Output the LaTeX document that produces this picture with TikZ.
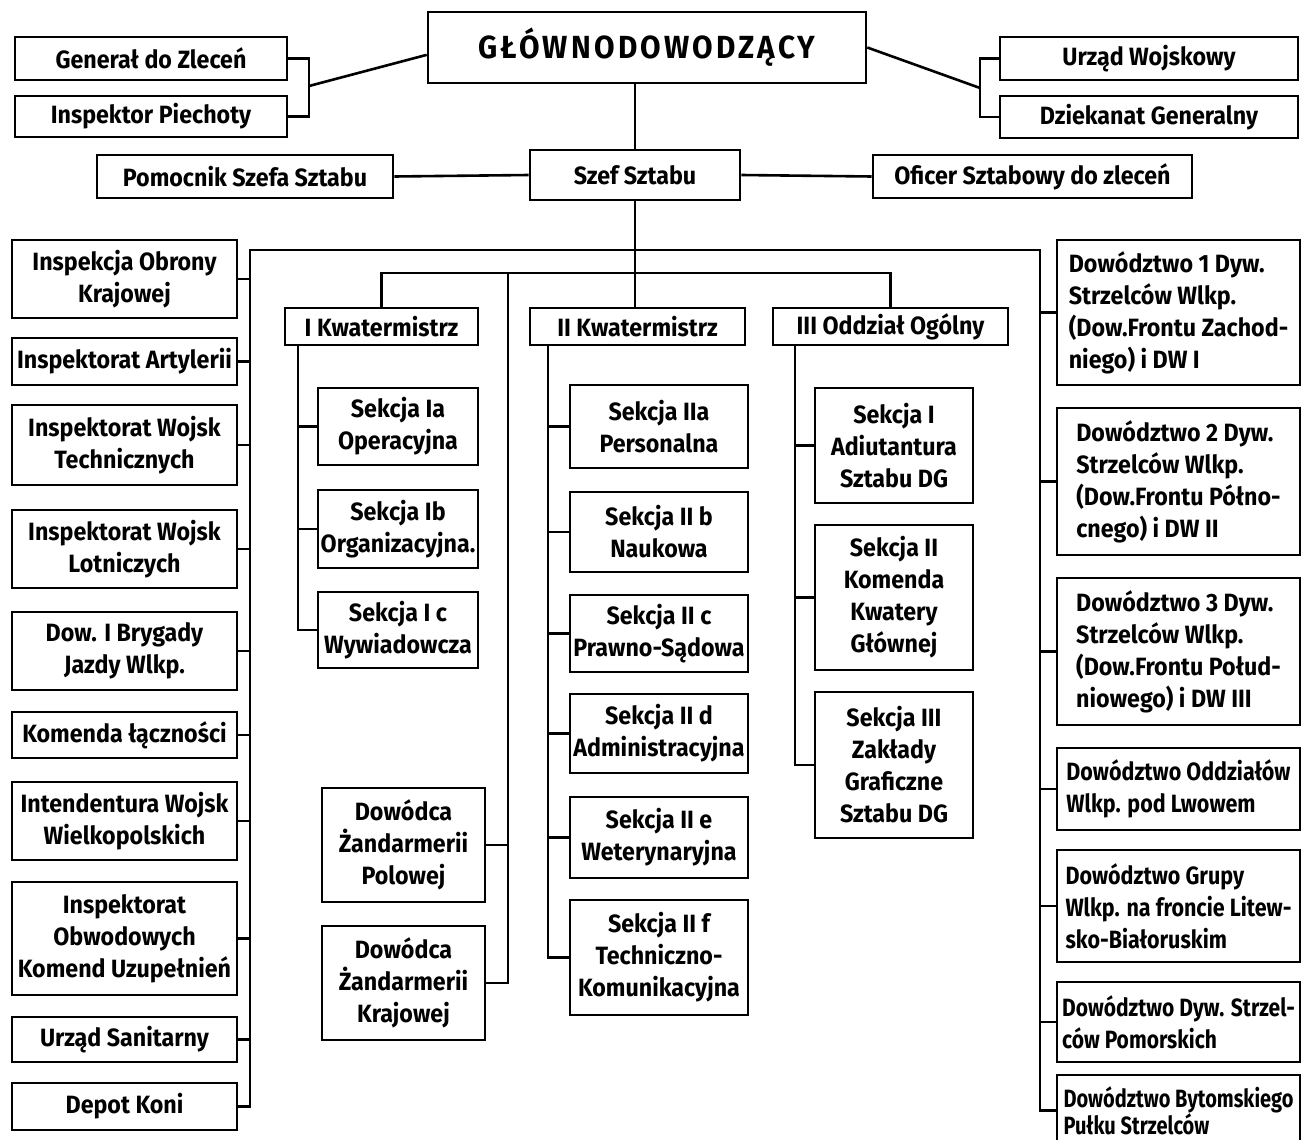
\documentclass[tikz,border=0pt]{standalone}
\usepackage{fontspec}
\usetikzlibrary{calc}
\setmainfont{Fira Sans}[FakeStretch=0.93]
\newcommand{\fs}{\fontsize{25}{32}\selectfont\bfseries}
\newcommand{\bigfs}{\fontsize{32}{36}\selectfont\addfontfeatures{LetterSpace=10}}
\newcommand{\narrowA}{\addfontfeatures{FakeStretch=0.86}}
\newcommand{\narrowC}{\addfontfeatures{FakeStretch=0.84}}
\newcommand{\narrowB}{\fontsize{25}{27}\selectfont\bfseries\addfontfeatures{FakeStretch=0.80}}
\tikzset{
  box/.style={draw, line width=2.6pt, inner sep=1pt, align=center, font=\fs},
  lbox/.style={box, align=left},
  conn/.style={line width=2.6pt, line join=miter}
}
\newcommand{\bx}[7][box]{\node[#1, minimum width={#5-#3}, minimum height={#6-#4}] (#2) at ({(#3+#5)/2},{(#4+#6)/2}) {#7};}
\begin{document}
\begin{tikzpicture}[x=1pt,y=-1pt]
\useasboundingbox[fill=white] (0,0) rectangle (1310,1140);
% top level
\bx{glow}{428}{12}{866}{83}{\bigfs GŁÓWNODOWODZĄCY}
\bx{gen}{15}{37}{287}{80}{Generał do Zleceń}
\bx{insp}{15}{96}{287}{137}{Inspektor Piechoty}
\bx{urz}{1000}{37}{1298}{80}{Urząd Wojskowy}
\bx{dzi}{1000}{96}{1298}{138}{Dziekanat Generalny}
\bx{szef}{530}{150}{740}{200}{Szef Sztabu}
\bx{pom}{97}{155}{393}{198}{Pomocnik Szefa Sztabu}
\bx{ofi}{873}{155}{1192}{198}{Oficer Sztabowy do zleceń}
\coordinate (brL) at (309,86);
\coordinate (brR) at (980,88);
\coordinate (glowL) at ($(glow.north west)!0.6!(glow.south west)$);
\coordinate (glowR) at ($(glow.north east)!0.5!(glow.south east)$);
\draw[conn] (gen.east) -| (brL) |- (insp.east);
\draw[conn] (brL) -- (glowL);
\draw[conn] (urz.west) -| (brR) |- (dzi.west);
\draw[conn] (brR) -- (glowR);
\draw[conn] (szef.north |- glow.south) -- (szef.north);
\draw[conn] (pom.east) -- (szef.west);
\draw[conn] (szef.east) -- (ofi.west);
% second level
\bx{k1}{285}{308}{478}{345}{I Kwatermistrz}
\bx{k2}{530}{308}{745}{345}{II Kwatermistrz}
\bx{k3}{773}{308}{1008}{345}{III Oddział Ogólny}
\draw[conn] (szef.south) -- (szef.south |- k2.north);
\coordinate (ltop) at (250,250);
\coordinate (rtop) at (1040,250);
\coordinate (mid) at (0,273);
\draw[conn] (k1.north) -- (k1.north |- mid) -- (k3.north |- mid) -- (k3.north);
% left column
\bx{l1}{12}{240}{237}{318}{Inspekcja Obrony\\Krajowej}
\bx{l2}{12}{338}{237}{385}{Inspektorat Artylerii}
\bx{l3}{12}{405}{237}{485}{Inspektorat Wojsk\\Technicznych}
\bx{l4}{12}{510}{237}{588}{Inspektorat Wojsk\\Lotniczych}
\bx{l5}{12}{612}{237}{690}{Dow. I Brygady\\Jazdy Wlkp.}
\bx{l6}{12}{712}{237}{758}{Komenda łączności}
\bx{l7}{12}{782}{237}{860}{Intendentura Wojsk\\Wielkopolskich}
\bx{l8}{12}{882}{237}{995}{Inspektorat\\Obwodowych\\Komend Uzupełnień}
\bx{l9}{12}{1017}{237}{1062}{Urząd Sanitarny}
\bx{l10}{12}{1083}{237}{1130}{Depot Koni}
\draw[conn] (rtop) -- (ltop) -- (ltop |- l10.east) -- (l10.east);
\foreach \n in {l1,l2,l3,l4,l5,l6,l7,l8,l9}{\draw[conn] (\n.east) -- (\n.east -| ltop);}
% right column
\bx[lbox]{r1}{1057}{240}{1300}{385}{Dowództwo 1 Dyw.\\Strzelców Wlkp.\\(Dow.Frontu Zachod-\\niego) i DW I}
\bx[lbox]{r2}{1057}{408}{1300}{555}{Dowództwo 2 Dyw.\\Strzelców Wlkp.\\(Dow.Frontu Półno-\\cnego) i DW II}
\bx[lbox]{r3}{1057}{578}{1300}{725}{Dowództwo 3 Dyw.\\Strzelców Wlkp.\\(Dow.Frontu Połud-\\niowego) i DW III}
\bx[lbox]{r4}{1057}{748}{1300}{830}{\narrowA Dowództwo Oddziałów\\\narrowA Wlkp. pod Lwowem}
\bx[lbox]{r5}{1057}{850}{1300}{962}{\narrowA Dowództwo Grupy\\\narrowA Wlkp. na froncie Litew-\\\narrowA sko-Białoruskim}
\bx[lbox]{r6}{1057}{982}{1300}{1062}{\narrowC Dowództwo Dyw. Strzel-\\\narrowC ców Pomorskich}
\bx[{lbox, font=\narrowB, inner ysep=0pt}]{r7}{1057}{1075}{1300}{1146}{Dowództwo Bytomskiego\\Pułku Strzelców}
\draw[conn] (ltop) -- (rtop) -- (rtop |- r7.west) -- (r7.west);
\foreach \n in {r1,r2,r3,r4,r5,r6}{\draw[conn] (\n.west -| rtop) -- (\n.west);}
% I Kwatermistrz
\bx{s1a}{318}{388}{478}{465}{Sekcja Ia\\Operacyjna}
\bx{s1b}{318}{490}{478}{568}{Sekcja Ib\\Organizacyjna.}
\bx{s1c}{318}{592}{478}{668}{Sekcja I c\\Wywiadowcza}
\coordinate (k1b) at (298,345);
\draw[conn] (k1b) |- (s1c.west);
\foreach \n in {s1a,s1b}{\draw[conn] (\n.west) -- (\n.west -| k1b);}
% Zandarmeria
\bx{zp}{322}{788}{485}{902}{Dowódca\\Żandarmerii\\Polowej}
\bx{zk}{322}{926}{485}{1040}{Dowódca\\Żandarmerii\\Krajowej}
\coordinate (zb) at (508,273);
\draw[conn] (zb) |- (zk.east);
\draw[conn] (zp.east) -- (zp.east -| zb);
% II Kwatermistrz
\bx{s2a}{570}{385}{748}{468}{Sekcja IIa\\Personalna}
\bx{s2b}{570}{492}{748}{572}{Sekcja II b\\Naukowa}
\bx{s2c}{570}{595}{748}{672}{Sekcja II c\\Prawno-Sądowa}
\bx{s2d}{570}{694}{748}{773}{Sekcja II d\\Administracyjna}
\bx{s2e}{570}{797}{748}{878}{Sekcja II e\\Weterynaryjna}
\bx{s2f}{570}{900}{748}{1015}{Sekcja II f\\Techniczno-\\Komunikacyjna}
\coordinate (k2b) at (548,345);
\draw[conn] (k2b) |- (s2f.west);
\foreach \n in {s2a,s2b,s2c,s2d,s2e}{\draw[conn] (\n.west) -- (\n.west -| k2b);}
% III Oddzial
\bx{s3a}{815}{388}{973}{503}{Sekcja I\\Adiutantura\\Sztabu DG}
\bx{s3b}{815}{525}{973}{670}{Sekcja II\\Komenda\\Kwatery\\Głównej}
\bx{s3c}{815}{692}{973}{838}{Sekcja III\\Zakłady\\Graficzne\\Sztabu DG}
\coordinate (k3b) at (795,345);
\draw[conn] (k3b) |- (s3c.west);
\foreach \n in {s3a,s3b}{\draw[conn] (\n.west) -- (\n.west -| k3b);}
\end{tikzpicture}
\end{document}
